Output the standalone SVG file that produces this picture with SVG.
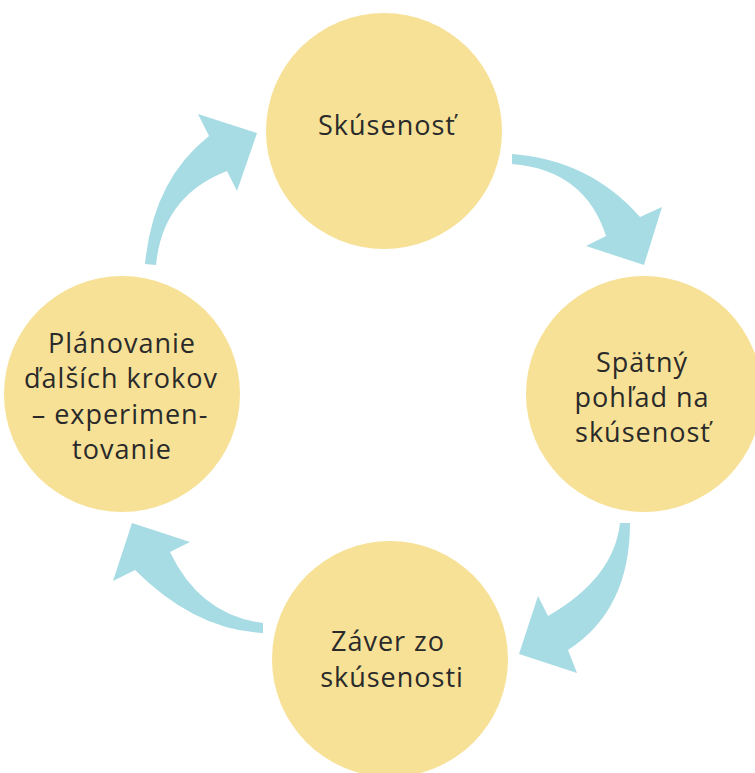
<svg xmlns="http://www.w3.org/2000/svg" width="755" height="773" viewBox="0 0 755 773">
<style>
.node circle{fill:#F7E197}
.node text{font-family:"Open Sans","Liberation Sans",sans-serif;font-size:27px;fill:#2a2a2a;text-anchor:middle;letter-spacing:1px}
.arrow{fill:#A7DCE5}
</style>
<rect width="755" height="773" fill="#ffffff"/>
<g id="connectors">
<path class="arrow" d="M145,264 Q153,180 209,136 L198,114 L257,133 L237,191 L227,171 Q162.5,196 156,265 Z"/>
<path class="arrow" d="M512,154 Q590,160 640,217 L662,207 L644,265 L586,246 L606,236 Q585,170 512,164 Z"/>
<path class="arrow" d="M630,523 Q630,610 568,650 L577,673 L519,654 L538,596 L548,616 Q614,578 620,523 Z"/>
<path class="arrow" d="M263,633 Q195,630 135,570 L113,581 L132,523 L190,542 L170,552 Q200,615 263,623 Z"/>
</g>
<g id="node-top" class="node">
<circle cx="384" cy="131" r="118"/>
<text x="387" y="135">Skúsenosť</text>
</g>
<g id="node-right" class="node">
<circle cx="644" cy="394" r="118"/>
<text x="642" y="372">Spätný</text>
<text x="642" y="407">pohľad na</text>
<text x="643" y="442">skúsenosť</text>
</g>
<g id="node-bottom" class="node">
<circle cx="390" cy="659" r="118"/>
<text x="388" y="651">Záver zo</text>
<text x="392" y="687">skúsenosti</text>
</g>
<g id="node-left" class="node">
<circle cx="122" cy="394" r="118"/>
<text x="122" y="352.5">Plánovanie</text>
<text x="121" y="388">ďalších krokov</text>
<text x="120" y="423.5">– experimen-</text>
<text x="122" y="459">tovanie</text>
</g>
</svg>
